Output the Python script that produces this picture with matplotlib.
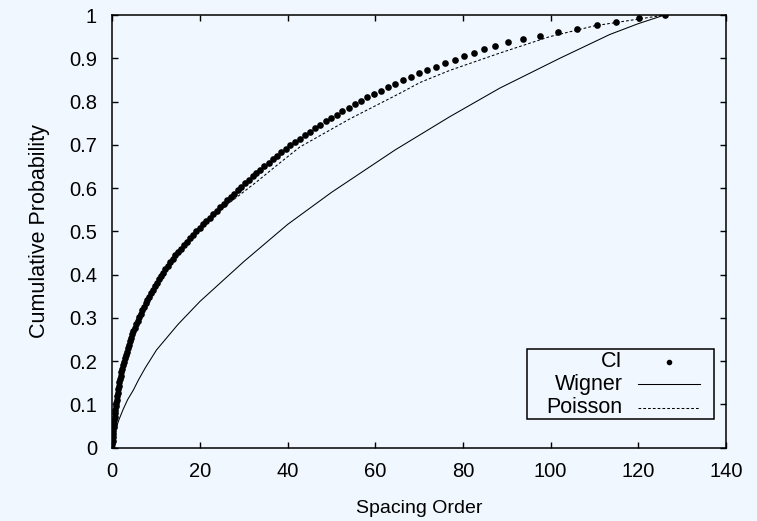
import matplotlib
matplotlib.use("Agg")
import matplotlib.pyplot as plt
from matplotlib.patches import Rectangle
from matplotlib.lines import Line2D

plt.rcParams['font.family'] = ['Liberation Sans', 'DejaVu Sans']

# CI: one dot per level, spacing order
ci_x = [0.0, 0.04, 0.085, 0.135, 0.19, 0.25, 0.315, 0.385, 0.46, 0.54,
        0.625, 0.715, 0.81, 0.91, 1.015, 1.125, 1.245, 1.37, 1.5, 1.64,
        1.785, 1.94, 2.10, 2.27, 2.45, 2.64, 2.84, 3.05, 3.27, 3.50,
        3.74, 3.99, 4.25, 4.52, 4.81, 5.11, 5.43, 5.76, 6.11, 6.47,
        6.84, 7.22, 7.61, 8.01, 8.42, 8.84, 9.27, 9.71, 10.16, 10.62,
        11.10, 11.60, 12.12, 12.66, 13.22, 13.80, 14.40, 15.02, 15.66, 16.32,
        17.00, 17.70, 18.42, 19.16, 19.91, 20.67, 21.44, 22.22, 23.01, 23.79,
        24.58, 25.38, 26.18, 26.99, 27.81, 28.64, 29.47, 30.31, 31.16, 32.02,
        32.90, 33.80, 34.72, 35.66, 36.62, 37.60, 38.60, 39.62, 40.66, 41.72,
        42.8, 43.9, 45.1, 46.3, 47.4, 48.7, 49.9, 51.2, 52.5, 53.9,
        55.3, 56.7, 58.2, 59.7, 61.3, 63.0, 64.6, 66.4, 68.1, 69.9,
        71.9, 73.9, 76.0, 78.2, 80.3, 82.6, 84.8, 87.2, 90.2, 93.7,
        97.5, 101.6, 106.0, 110.5, 115.0, 120.2, 126.0]
n_levels = len(ci_x) - 1
ci_y = [k / n_levels for k in range(len(ci_x))]

# Wigner curve
wig_x = [0, 0.1, 0.3, 0.5, 1.0, 1.5, 2.5, 3.5, 4.8, 6.0, 7.5, 10.1, 15, 20, 30, 40, 50,
         64.5, 77, 88.4, 102.1, 113.5, 120, 126]
wig_y = [0, 0.012, 0.023, 0.032, 0.049, 0.064, 0.089, 0.111, 0.133, 0.157, 0.184, 0.226,
         0.285, 0.338, 0.43, 0.516, 0.59, 0.688, 0.765, 0.831, 0.9, 0.955, 0.98, 1.0]

# Poisson curve
poi_x = [0, 0.3, 0.85, 1.6, 2.6, 4.0, 5.7, 8.3, 11.3, 15.0, 19.2, 23.0, 27.0, 33.0, 38.2, 42.8,
         54.2, 65.6, 70.2, 77, 88.4, 99.8, 110, 120.3, 126]
poi_y = [0, 0.04, 0.1, 0.15, 0.2, 0.25, 0.3, 0.35, 0.4, 0.45, 0.5, 0.536, 0.568, 0.615, 0.658, 0.695,
         0.76, 0.819, 0.844, 0.872, 0.912, 0.95, 0.975, 0.991, 1.0]

bg = '#f0f7fe'
fig = plt.figure(figsize=(7.57, 5.21), dpi=100, facecolor=bg)
ax = fig.add_axes([0.1483, 0.1407, 0.8107, 0.8305])
ax.set_facecolor(bg)

ax.plot(wig_x, wig_y, color='black', lw=0.75)
ax.plot(poi_x, poi_y, color='black', lw=0.75, dashes=(2.6, 2.0))
ax.plot(ci_x, ci_y, 'o', color='black', ms=4.8, mec='none')

ax.set_xlim(0, 140)
ax.set_ylim(0, 1)
ax.set_xticks(range(0, 141, 20))
ax.set_yticks([i / 10 for i in range(11)])
ax.set_yticklabels(['%g' % (i / 10) for i in range(11)])
ax.tick_params(direction='in', length=4, width=1, top=True, right=True,
               labelsize=14.5, colors='black')
ax.tick_params(axis='y', pad=11)
ax.tick_params(axis='x', pad=10)
for s in ax.spines.values():
    s.set_linewidth(1.1)

ax.set_xlabel('Spacing Order', fontsize=14, labelpad=14)
ax.set_ylabel('Cumulative Probability', fontsize=15.5, labelpad=14)

# gnuplot-style key: labels right-aligned, samples on the right
ax.add_patch(Rectangle((0.6753, 0.0656), 0.3052, 0.1625, transform=ax.transAxes,
                       fill=False, lw=1.1, ec='black', zorder=5))
rows = [0.1987, 0.1465, 0.0924]
for name, yy in zip(['CI', 'Wigner', 'Poisson'], rows):
    ax.text(0.8317, yy, name, transform=ax.transAxes, ha='right', va='center', fontsize=15.5)
ax.add_line(Line2D([0.9068], [rows[0]], transform=ax.transAxes, marker='o', ms=4,
                   color='black', mec='none', ls='none'))
ax.add_line(Line2D([0.8561, 0.9576], [rows[1], rows[1]], transform=ax.transAxes,
                   color='black', lw=0.75))
ax.add_line(Line2D([0.8561, 0.9576], [rows[2], rows[2]], transform=ax.transAxes,
                   color='black', lw=0.75, dashes=(2.6, 2.0)))

fig.savefig('out.png', dpi=100, facecolor=bg)
